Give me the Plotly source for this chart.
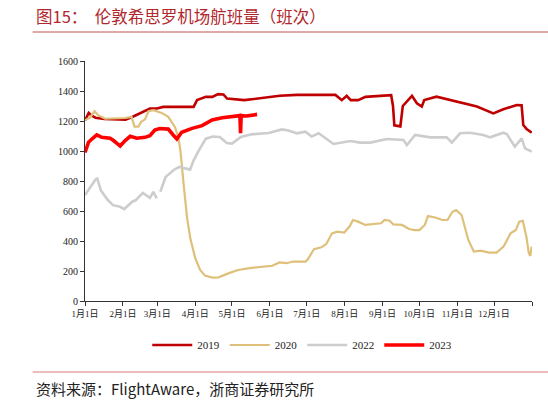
import plotly.graph_objects as go

# Day-of-year (0 = Jan 1) and values
days_2019 = [0, 3, 5, 8.6, 15.7, 24, 33, 38.6, 44, 53, 58.6, 64, 73, 88.7, 91.5, 98.7, 104, 108.7, 113, 116,
             130, 136, 147, 159, 173, 187, 204.5, 209.7, 213.7, 217, 223, 229, 250, 251.5, 252.6, 257.5, 259.5,
             267, 271, 275, 277, 287, 303.6, 320, 333.4, 341.6, 352.5, 356.5, 357.9, 360.6, 364.8]
vals_2019 = [1204, 1254, 1238, 1222, 1213, 1213, 1209, 1227, 1249, 1283, 1283, 1294, 1294, 1294, 1339, 1361, 1361, 1379, 1377, 1350,
             1339, 1345, 1356, 1368, 1374, 1374, 1374, 1339, 1368, 1339, 1339, 1361, 1372, 1300, 1171, 1164, 1300,
             1368, 1318, 1296, 1340, 1362, 1329, 1296, 1251, 1278, 1307, 1305, 1173, 1147, 1122]

days_2020 = [0, 4, 7.8, 11, 16.5, 24.6, 32.8, 38, 40.4, 43.6, 45.8, 49, 51.8, 55.9, 62.6, 68, 73.6, 76.5, 78, 80.6,
             83.4, 86, 90, 94, 98, 103.8, 109, 117, 125, 133, 144.5, 153, 158.8, 164.5, 170, 180, 181.6, 187, 193,
             197, 201.7, 206, 211.7, 216, 218.8, 223, 228.8, 236, 241.7, 244.6, 248.8, 251.7, 258.9, 264.6, 268.9,
             273, 277.5, 280, 286, 291.8, 296, 300, 303, 307.5, 313, 317.5, 323, 330, 336, 341.8, 347.5, 351.8,
             354.6, 357.5, 360.4, 362.4, 363.6, 364.7]
vals_2020 = [1206, 1222, 1265, 1237, 1215, 1215, 1220, 1228, 1163, 1163, 1194, 1211, 1265, 1272, 1254, 1228, 1157, 1080, 996, 773,
             551, 418, 285, 207, 169, 156, 158, 184, 207, 218, 229, 235, 257, 252, 263, 263, 274, 345, 358,
             380, 451, 462, 456, 496, 540, 529, 507, 511, 518, 540, 535, 511, 507, 480, 473,
             473, 507, 566, 557, 540, 540, 595, 606, 573, 407, 330, 336, 323, 323, 363, 451, 473,
             529, 535, 429, 319, 301, 363]

days_2022 = [0, 5.7, 8.6, 10, 12.9, 18.6, 22.9, 28.6, 32, 38.6, 41.5, 47.2, 50, 53, 55.8, 58.6, None, 61.5, 65.8, 73,
             77, 85.8, 88.7, 93, 98.7, 104.4, 110, 115.8, 120, 127.3, 135.9, 150, 160.8, 166, 173, 180, 185, 190.7,
             203, 216.6, 224.7, 232.9, 246.5, 260, 262.8, 269.6, 281.8, 295.4, 299.5, 306.3, 314.4, 325.3, 330.8,
             341.6, 344.4, 351, 356.6, 359.3, 364.8]
vals_2022 = [706, 772, 810, 816, 739, 673, 639, 628, 613, 662, 673, 721, 706, 688, 728, 684, None, 728, 827, 876,
             894, 876, 938, 1004, 1082, 1097, 1093, 1053, 1049, 1093, 1111, 1120, 1144, 1137, 1118, 1129, 1096, 1118,
             1047, 1067, 1056, 1056, 1080, 1073, 1040, 1107, 1091, 1091, 1056, 1118, 1122, 1107, 1091,
             1122, 1113, 1029, 1084, 1018, 996]

days_2023 = [0, 2.9, 5.6, 9.6, 13.7, 20.5, 23.3, 28.7, 32.8, 36.9, 42.3, 49, 53, 57, 61, 68, 72, 75, 79, 87.4,
             95.6, 103.8, 112, 121, 126.5, 127, 127.5, 132, 140.5]
vals_2023 = [990, 1059, 1080, 1107, 1091, 1085, 1070, 1033, 1070, 1098, 1085, 1091, 1102, 1139, 1150, 1146, 1107, 1080, 1125, 1151,
             1169, 1207, 1222, 1229, 1236, 1118, 1236, 1233, 1244]

month_days = [0, 31, 59, 90, 120, 151, 181, 212, 243, 273, 304, 334, 365]
month_labels = ["1月1日", "2月1日", "3月1日", "4月1日", "5月1日", "6月1日", "7月1日", "8月1日",
                "9月1日", "10月1日", "11月1日", "12月1日", ""]
y_ticks = [0, 200, 400, 600, 800, 1000, 1200, 1400, 1600]

series = [
    ("2019", days_2019, vals_2019, "#C00000", 2.6),
    ("2020", days_2020, vals_2020, "#DFC07A", 2.2),
    ("2022", days_2022, vals_2022, "#CDCDCD", 2.6),
    ("2023", days_2023, vals_2023, "#FF0000", 3.6),
]

serif = "Liberation Serif, Times New Roman, Noto Sans CJK SC, serif"
cjk = "Noto Sans CJK SC, sans-serif"

fig = go.Figure()
for name, d, v, c, w in series:
    fig.add_trace(go.Scatter(x=d, y=v, mode="lines", name=name,
                             line=dict(color=c, width=w), connectgaps=False))

L, R, T, B = 84.5, 532, 61, 301
W, H = 548, 404
pw, ph = R - L, B - T


def px(x):
    return (x - L) / pw


def py(y):
    return (B - y) / ph


fig.update_layout(
    width=W, height=H,
    margin=dict(l=L, r=W - R, t=T, b=H - B, pad=0, autoexpand=False),
    paper_bgcolor="white", plot_bgcolor="white",
    showlegend=True,
    legend=dict(orientation="h", x=px(302), y=py(345), xanchor="center", yanchor="middle",
                font=dict(family=serif, size=11, color="#222"), itemwidth=40,
                tracegroupgap=0, bgcolor="rgba(0,0,0,0)"),
    xaxis=dict(range=[0, 365], tickvals=month_days, ticktext=month_labels, tickangle=0,
               automargin=False,
               showline=True, linecolor="#333", linewidth=1, ticks="outside",
               ticklen=4, tickcolor="#333", showgrid=False, zeroline=False,
               tickfont=dict(family=serif, size=9, color="#222")),
    yaxis=dict(range=[0, 1600], tickvals=y_ticks, automargin=False,
               showline=True, linecolor="#333", linewidth=1, ticks="outside",
               ticklen=4, tickcolor="#333", showgrid=False, zeroline=False,
               tickfont=dict(family=serif, size=10, color="#222")),
    annotations=[
        dict(text="图15：  伦敦希思罗机场航班量（班次）", x=px(33), y=py(16), xref="paper", yref="paper",
             xanchor="left", yanchor="middle", showarrow=False,
             font=dict(family=cjk, size=16.5, color="#B0272D")),
        dict(text="资料来源：FlightAware，浙商证券研究所", x=px(33), y=py(388), xref="paper", yref="paper",
             xanchor="left", yanchor="middle", showarrow=False,
             font=dict(family=cjk, size=15, color="#222")),
    ],
    shapes=[
        dict(type="line", xref="paper", yref="paper", x0=px(32), x1=px(548), y0=py(32), y1=py(32),
             line=dict(color="#C0504D", width=1)),
        dict(type="line", xref="paper", yref="paper", x0=px(32), x1=px(548), y0=py(372), y1=py(372),
             line=dict(color="#D9787A", width=1.2)),
    ],
)

fig.write_html("out.html", config={"displayModeBar": False},
               post_script="document.body.style.margin='0';document.body.style.overflow='hidden';")
